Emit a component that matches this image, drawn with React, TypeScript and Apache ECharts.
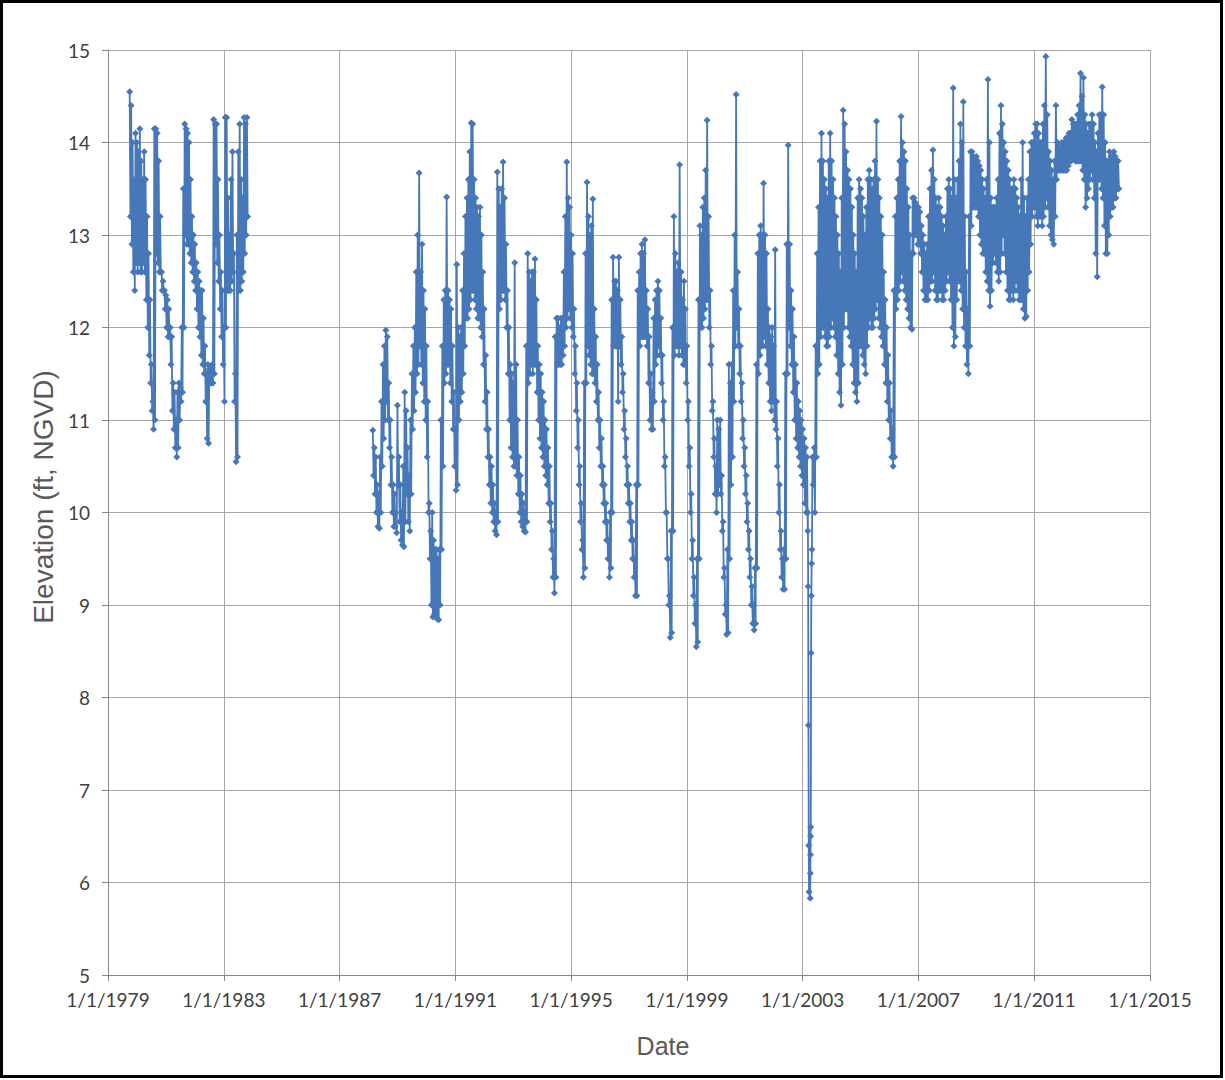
import React, { useEffect, useRef } from "react";
import * as echarts from "echarts";

// Values were read as the upper and lower edge of the plotted band in every
// 0.05-year slot (the record is daily, so each slot holds a cloud of points).
const STEP = 0.05;
const AXIS_ORIGIN_YEAR = 1979;

// Segment 1: 1979.75 – 1983.80
const seg1Start = 1979.75;
const seg1High = [
  14.55, 14.4, 14.0, 13.6, 14.1,
  14.0, 13.9, 14.15, 13.8, 13.6, 13.9, 13.6, 13.2, 12.8, 12.3, 11.6, 11.2, 14.15, 14.15, 14.1, 13.8, 13.2, 12.6, 12.5, 12.4,
  12.35, 12.3, 12.2, 12.0, 11.9, 11.4, 11.3, 11.0, 11.3, 11.4, 11.35, 12.0, 13.5, 14.2, 14.15, 14.1, 14.0, 13.6, 13.2, 13.0,
  12.9, 12.7, 12.6, 12.5, 12.4, 12.4, 12.1, 11.8, 11.5, 11.6, 11.55, 11.55, 11.6, 14.25, 14.2, 14.2, 13.6, 13.0, 12.6, 12.4,
  12.0, 14.27, 14.27, 13.4, 13.0, 13.6, 13.9, 12.8, 11.5, 13.0, 13.9, 14.2, 13.6, 13.4, 14.27, 14.2, 14.27,
];
const seg1Low = [
  13.2, 12.9, 12.6, 12.4, 12.7,
  12.6, 12.7, 12.6, 12.6, 12.7, 12.6, 12.3, 12.0, 11.7, 11.4, 11.1, 10.9, 11.0, 12.8, 12.7, 12.6, 12.6, 12.4, 12.4, 12.2,
  12.0, 11.9, 11.9, 11.6, 11.1, 10.9, 10.7, 10.6, 10.7, 11.0, 11.2, 11.3, 12.0, 13.0, 12.9, 12.9, 12.8, 12.7, 12.6, 12.5,
  12.4, 12.2, 12.0, 11.9, 11.7, 11.6, 11.5, 11.2, 10.8, 10.75, 11.4, 11.4, 11.4, 11.5, 12.9, 12.7, 12.5, 12.2, 11.9, 11.6,
  11.2, 12.0, 12.4, 12.4, 12.4, 12.5, 12.6, 11.2, 10.55, 10.6, 12.4, 12.4, 12.5, 12.6, 12.8, 13.0, 13.2,
];

// Segment 2a: 1988.15 – 2003.15
const seg2aStart = 1988.15;
const seg2aHigh = [
  10.89, 10.7, 10.6, 10.3, 10.2, 10.6, 11.2, 11.6, 11.8, 11.97, 11.9, 11.4, 11.0, 10.6, 10.3, 10.2, 10.0,
  11.16, 10.6, 10.3, 10.0, 10.5, 11.3, 11.1, 10.7, 10.4, 11.0, 11.5, 11.8, 12.0, 12.6, 13.0, 13.67, 12.6, 12.9, 12.4, 12.2,
  11.8, 11.2, 10.1, 9.8, 10.0, 9.7, 9.6, 9.6, 9.5, 9.6, 11.0, 11.8, 12.3, 12.4, 13.41, 12.4, 12.3, 12.2, 11.8, 11.3,
  10.9, 12.68, 12.0, 11.9, 12.0, 12.4, 12.8, 13.2, 13.4, 13.6, 13.9, 14.21, 14.2, 13.6, 13.4, 13.3, 13.2, 13.3, 13.0, 12.6,
  12.2, 11.7, 11.3, 10.9, 10.6, 10.5, 10.3, 10.1, 10.0, 13.68, 13.5, 13.3, 13.5, 13.79, 13.4, 12.9, 12.4, 12.0, 11.6, 11.5,
  11.4, 12.7, 11.6, 11.0, 10.6, 10.4, 10.2, 10.1, 10.0, 11.8, 12.8, 12.6, 12.5, 12.6, 12.6, 12.74, 12.3, 11.8, 11.6, 11.5,
  11.3, 11.2, 11.0, 10.9, 10.7, 10.5, 10.1, 9.8, 9.5, 11.9, 12.1, 12.1, 12.0, 12.1, 12.1, 12.6, 13.2, 13.79, 13.4, 13.3,
  13.0, 12.8, 12.2, 11.8, 11.4, 11.0, 10.5, 10.1, 9.7, 11.4, 12.8, 13.57, 13.2, 13.0, 13.1, 13.39, 12.2, 11.9, 11.6, 11.3,
  11.0, 10.8, 10.5, 10.3, 10.1, 9.9, 9.7, 10.0, 12.3, 12.76, 12.5, 12.5, 12.4, 12.76, 12.3, 11.9, 11.5, 11.1, 10.8, 10.5,
  10.3, 10.1, 9.9, 9.7, 9.5, 10.3, 12.4, 12.6, 12.8, 12.9, 12.8, 12.95, 12.4, 12.2, 11.9, 11.5, 11.3, 12.1, 12.3, 12.4,
  12.5, 12.4, 12.1, 11.7, 11.2, 10.6, 10.0, 9.5, 9.1, 9.8, 12.0, 13.2, 12.8, 12.6, 12.7, 13.76, 12.6, 12.3, 12.5, 12.2,
  11.8, 11.2, 10.7, 10.2, 9.7, 9.3, 9.0, 9.5, 12.3, 13.1, 13.0, 13.3, 13.4, 13.7, 14.24, 13.2, 12.4, 11.8, 11.2, 10.8,
  10.5, 11.0, 10.9, 11.0, 10.4, 9.9, 9.4, 9.0, 9.6, 11.6, 11.4, 11.6, 12.4, 13.0, 14.52, 12.6, 12.2, 11.8, 11.4, 11.0,
  10.7, 10.4, 10.1, 9.8, 9.5, 9.2, 9.0, 9.4, 11.6, 12.8, 13.0, 13.1, 13.0, 13.56, 13.0, 12.8, 12.2, 12.0, 11.9, 12.0,
  11.8, 12.84, 11.2, 10.8, 10.3, 9.8, 9.5, 9.6, 11.5, 12.9, 13.97, 12.9, 12.4, 12.2, 11.9, 11.6, 11.4, 11.2, 11.1, 11.0,
  10.9, 10.8, 10.7, 10.6,
];
const seg2aLow = [
  10.4, 10.2, 10.0, 9.85, 9.83, 10.0, 10.5, 10.8, 11.0, 11.2, 11.0, 10.7, 10.3, 10.0, 9.85, 9.85, 9.78,
  10.3, 9.9, 9.7, 9.65, 9.63, 9.9, 10.2, 9.9, 9.8, 10.2, 10.9, 11.1, 11.3, 11.5, 11.6, 11.8, 11.6, 11.4, 11.2, 11.0,
  10.6, 10.0, 9.5, 9.0, 8.87, 8.9, 8.9, 8.85, 8.84, 9.0, 9.6, 10.5, 11.4, 11.5, 11.6, 11.6, 11.4, 11.2, 10.9, 10.5,
  10.24, 10.3, 11.0, 11.2, 11.3, 11.5, 11.8, 12.1, 12.1, 12.2, 12.3, 12.4, 12.4, 12.3, 12.2, 12.1, 12.1, 12.0, 11.9, 11.6,
  11.2, 10.9, 10.6, 10.3, 10.1, 10.0, 9.9, 9.8, 9.76, 9.9, 12.2, 12.3, 12.4, 12.4, 12.3, 12.0, 11.5, 11.0, 10.7, 10.6,
  10.5, 10.5, 10.4, 10.2, 10.0, 9.9, 9.85, 9.8, 9.79, 9.9, 11.4, 11.5, 11.6, 11.5, 11.6, 11.6, 11.3, 11.0, 10.8, 10.7,
  10.6, 10.5, 10.4, 10.3, 10.1, 9.9, 9.6, 9.3, 9.13, 9.3, 11.6, 11.6, 11.6, 11.6, 11.7, 11.8, 12.0, 12.1, 12.2, 12.1,
  12.0, 11.9, 11.5, 11.1, 10.7, 10.3, 9.9, 9.6, 9.3, 9.4, 11.4, 11.8, 11.7, 11.6, 11.5, 11.5, 11.4, 11.2, 11.0, 10.7,
  10.5, 10.3, 10.1, 9.9, 9.7, 9.5, 9.3, 9.4, 10.0, 11.8, 11.8, 11.8, 11.2, 11.8, 11.6, 11.3, 10.9, 10.6, 10.3, 10.1,
  9.9, 9.7, 9.5, 9.3, 9.1, 9.1, 10.3, 11.8, 11.9, 11.9, 11.9, 11.9, 11.8, 11.4, 11.0, 10.9, 10.9, 11.2, 11.6, 11.7,
  11.8, 11.7, 11.4, 11.0, 10.5, 10.0, 9.5, 9.0, 8.65, 8.7, 9.8, 11.7, 11.8, 11.8, 11.7, 11.8, 11.7, 11.6, 11.6, 11.4,
  11.0, 10.5, 10.0, 9.5, 9.1, 8.8, 8.55, 8.6, 9.5, 12.0, 12.0, 12.1, 12.2, 12.3, 12.3, 12.0, 11.6, 11.1, 10.6, 10.2,
  10.0, 10.2, 10.3, 10.2, 9.8, 9.3, 8.9, 8.68, 8.7, 9.5, 10.3, 10.6, 11.2, 11.8, 12.0, 11.8, 11.5, 11.2, 10.8, 10.5,
  10.2, 9.9, 9.6, 9.3, 9.0, 8.8, 8.73, 8.8, 9.4, 11.5, 11.7, 11.8, 11.8, 11.9, 11.8, 11.6, 11.4, 11.2, 11.1, 11.2,
  11.0, 10.9, 10.5, 10.0, 9.6, 9.3, 9.17, 9.17, 9.5, 11.5, 12.0, 11.8, 11.6, 11.3, 11.0, 10.8, 10.7, 10.6, 10.5, 10.4,
  10.3, 10.1, 10.0, 9.8,
];

// 2003 drawdown, read point by point
const drawdownYears = [2003.18, 2003.19, 2003.2, 2003.21, 2003.22, 2003.26, 2003.265, 2003.27, 2003.275, 2003.28, 2003.29, 2003.3, 2003.31, 2003.32, 2003.34, 2003.36];
const drawdownValues = [10.0, 9.2, 7.7, 6.4, 5.9, 5.83, 6.1, 6.3, 6.5, 6.6, 8.48, 9.1, 9.45, 9.6, 10.6, 10.3];

// Segment 2b: 2003.40 – 2013.90
const seg2bStart = 2003.4;
const seg2bHigh = [
  10.7, 11.8, 12.8, 13.3, 13.8, 14.1, 13.8, 13.6, 13.5, 13.4, 13.8, 14.1,
  13.8, 13.6, 13.4, 13.2, 13.0, 12.8, 12.6, 13.4, 14.35, 14.2, 13.9, 13.7, 13.6, 13.5, 13.3, 13.0, 12.8, 12.6, 13.4, 13.6,
  13.5, 13.4, 13.2, 13.0, 13.3, 13.6, 13.7, 13.6, 13.5, 13.6, 13.8, 14.23, 13.6, 13.4, 13.2, 13.0, 12.6, 12.3, 12.0, 11.7,
  11.4, 11.1, 10.9, 12.4, 13.2, 13.4, 13.6, 13.8, 14.28, 14.0, 13.9, 13.8, 13.5, 13.3, 13.0, 12.8, 13.4, 13.4, 13.35, 13.3,
  13.3, 13.25, 13.1, 13.0, 12.9, 12.8, 12.9, 13.2, 13.5, 13.7, 13.92, 13.6, 13.4, 13.3, 13.4, 13.3, 13.2, 13.1, 13.0, 13.2,
  13.5, 13.6, 13.5, 13.4, 14.59, 13.6, 13.4, 13.6, 13.8, 14.2, 14.0, 14.44, 13.2, 12.6, 12.2, 13.2, 13.9, 13.9, 13.85, 13.8,
  13.85, 13.8, 13.75, 13.7, 13.6, 13.5, 13.4, 13.6, 14.68, 14.0, 13.4, 13.3, 13.3, 13.3, 13.4, 13.6, 14.1, 14.4, 14.2, 14.0,
  13.9, 13.8, 13.7, 13.6, 13.5, 13.5, 13.6, 13.5, 13.4, 13.3, 13.2, 13.6, 14.0, 13.4, 13.2, 13.4, 13.6, 13.9, 14.0, 14.0,
  14.1, 14.2, 14.2, 14.1, 14.0, 14.0, 14.2, 14.4, 14.93, 14.3, 13.9, 13.8, 13.7, 13.6, 13.8, 14.4, 14.0, 13.95, 13.95, 14.0,
  14.0, 14.0, 14.05, 14.05, 14.1, 14.1, 14.25, 14.2, 14.2, 14.2, 14.3, 14.4, 14.75, 14.5, 14.7, 14.3, 14.2, 14.1, 14.2, 14.2,
  14.3, 14.2, 14.0, 13.9, 14.1, 14.3, 14.3, 14.6, 14.3, 14.0, 13.8, 13.8, 13.9, 13.85, 13.85, 13.9, 13.85, 13.8, 13.8,
];
const seg2bLow = [
  10.0, 10.6, 11.5, 11.6, 11.9, 12.0, 12.0, 11.9, 11.8, 11.8, 11.9, 12.0,
  12.1, 12.0, 11.9, 11.7, 11.5, 11.3, 11.16, 11.6, 12.0, 12.2, 12.2, 12.0, 11.9, 11.8, 11.6, 11.4, 11.3, 11.2, 11.4, 11.8,
  11.8, 11.7, 11.6, 11.5, 11.8, 12.0, 12.1, 12.0, 12.0, 12.1, 12.2, 12.3, 12.1, 12.0, 11.9, 11.8, 11.6, 11.4, 11.2, 11.0,
  10.8, 10.6, 10.5, 10.6, 12.2, 12.3, 12.4, 12.5, 12.6, 12.5, 12.4, 12.3, 12.2, 12.1, 12.0, 11.98, 12.8, 13.0, 13.0, 12.9,
  12.9, 12.8, 12.6, 12.4, 12.3, 12.3, 12.3, 12.4, 12.5, 12.5, 12.6, 12.4, 12.3, 12.3, 12.4, 12.4, 12.3, 12.3, 12.4, 12.5,
  12.6, 12.5, 12.3, 12.0, 11.8, 11.9, 12.3, 12.5, 12.5, 12.4, 12.2, 12.0, 11.8, 11.6, 11.5, 11.8, 13.1, 13.3, 13.3, 13.3,
  13.3, 13.2, 13.0, 12.9, 12.8, 12.8, 12.6, 12.5, 12.4, 12.23, 12.4, 12.7, 12.8, 12.7, 12.6, 12.5, 12.6, 12.8, 13.0, 12.8,
  12.6, 12.4, 12.3, 12.3, 12.4, 12.3, 12.4, 12.5, 12.4, 12.3, 12.3, 12.3, 12.2, 12.1, 12.12, 12.4, 12.6, 12.9, 13.2, 13.3,
  13.3, 13.2, 13.1, 13.2, 13.2, 13.1, 13.2, 13.3, 13.4, 13.3, 13.1, 13.0, 12.95, 12.9, 13.2, 13.6, 13.7, 13.7, 13.7, 13.7,
  13.7, 13.7, 13.7, 13.75, 13.8, 13.8, 13.85, 13.85, 13.8, 13.8, 13.8, 13.8, 13.8, 13.7, 13.6, 13.3, 13.4, 13.5, 13.6, 13.7,
  13.6, 13.4, 12.8, 12.55, 13.6, 13.6, 13.5, 13.4, 13.1, 12.8, 12.8, 13.0, 13.2, 13.3, 13.3, 13.4, 13.4, 13.5, 13.5,
];

// Year with no record (breaks the line)
const gapYear = 1986;

// X tick years
const tickYears = [1979, 1983, 1987, 1991, 1995, 1999, 2003, 2007, 2011, 2015];
const yMin = 5;
const yMax = 15;

const BLUE = "#4677B8";

function band(start: number, high: number[], low: number[]) {
  const out: number[][] = [];
  high.forEach((h, i) => {
    const t = start + i * STEP - AXIS_ORIGIN_YEAR;
    out.push([t, h]);
    out.push([t + STEP / 2, low[i]]);
  });
  return out;
}

export default function App() {
  const ref = useRef<HTMLDivElement>(null);

  useEffect(() => {
    document.body.style.margin = "0";
    if (!ref.current) return;
    const chart = echarts.init(ref.current, null, { renderer: "svg" });

    const data: any[] = [
      ...band(seg1Start, seg1High, seg1Low),
      [gapYear - AXIS_ORIGIN_YEAR, "-"],
      ...band(seg2aStart, seg2aHigh, seg2aLow),
      ...drawdownYears.map((y, i) => [y - AXIS_ORIGIN_YEAR, drawdownValues[i]]),
      ...band(seg2bStart, seg2bHigh, seg2bLow),
    ];

    const first = tickYears[0];
    const last = tickYears[tickYears.length - 1];

    chart.setOption({
      animation: false,
      backgroundColor: "#ffffff",
      grid: { left: 108, right: 75, top: 50, bottom: 105, containLabel: false },
      xAxis: {
        type: "value",
        min: 0,
        max: last - first,
        interval: tickYears[1] - tickYears[0],
        axisLine: { show: true, onZero: false, lineStyle: { color: "#868686", width: 1 } },
        axisTick: { show: true, length: 6, lineStyle: { color: "#868686" } },
        splitLine: { show: true, lineStyle: { color: "#A6A6A6", width: 1 } },
        axisLabel: {
          formatter: (v: number) => `1/1/${first + v}`,
          fontFamily: "Lato",
          fontSize: 19,
          color: "#404040",
          margin: 15,
        },
      },
      yAxis: {
        type: "value",
        min: yMin,
        max: yMax,
        interval: 1,
        axisLine: { show: true, lineStyle: { color: "#868686", width: 1 } },
        axisTick: { show: true, length: 6, lineStyle: { color: "#868686" } },
        splitLine: { show: true, lineStyle: { color: "#A6A6A6", width: 1 } },
        axisLabel: {
          fontFamily: "Lato",
          fontSize: 19,
          color: "#404040",
          margin: 18,
        },
      },
      series: [
        {
          type: "line",
          data,
          symbol: "diamond",
          symbolSize: 7,
          showAllSymbol: true,
          connectNulls: false,
          silent: true,
          lineStyle: { color: BLUE, width: 1.8 },
          itemStyle: { color: BLUE },
        },
      ],
      graphic: [
        {
          type: "text",
          x: 43,
          y: 497,
          rotation: Math.PI / 2,
          style: {
            text: "Elevation (ft, NGVD)",
            font: '28px "Liberation Sans", Arial, sans-serif',
            fill: "#595959",
            textAlign: "center",
            textVerticalAlign: "middle",
          },
        },
        {
          type: "text",
          x: 663,
          y: 1046,
          style: {
            text: "Date",
            font: '25px "Liberation Sans", Arial, sans-serif',
            fill: "#595959",
            textAlign: "center",
            textVerticalAlign: "middle",
          },
        },
        {
          type: "rect",
          shape: { x: 1.5, y: 1.5, width: 1220, height: 1075 },
          style: { fill: "none", stroke: "#000000", lineWidth: 3 },
          z: 100,
        },
      ],
    });

    return () => chart.dispose();
  }, []);

  return <div ref={ref} style={{ width: 1225, height: 1080 }} />;
}
